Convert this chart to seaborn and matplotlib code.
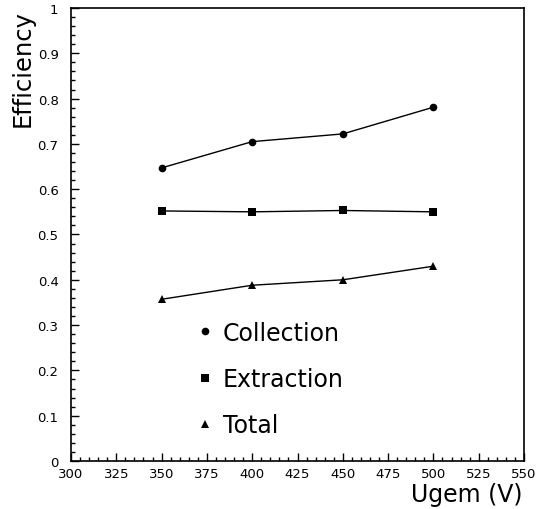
import numpy as np
import pandas as pd
import seaborn as sns
import matplotlib
matplotlib.use("Agg")
import matplotlib.pyplot as plt
from matplotlib.lines import Line2D
from matplotlib.ticker import MultipleLocator

# values
ugem = [350, 400, 450, 500]
collection = [0.647, 0.705, 0.722, 0.781]
extraction = [0.552, 0.550, 0.553, 0.550]
total = [0.357, 0.388, 0.400, 0.430]

series_names = ["Collection", "Extraction", "Total"]
marker_map = {"Collection": "o", "Extraction": "s", "Total": "^"}

xticks = [300, 325, 350, 375, 400, 425, 450, 475, 500, 525, 550]
yticks = [0, 0.1, 0.2, 0.3, 0.4, 0.5, 0.6, 0.7, 0.8, 0.9, 1]
ytick_labels = ["0", "0.1", "0.2", "0.3", "0.4", "0.5", "0.6", "0.7", "0.8", "0.9", "1"]

df = pd.DataFrame({
    "ugem": ugem * 3,
    "eff": collection + extraction + total,
    "series": [s for s in series_names for _ in ugem],
})

sns.set_style("white")
plt.rcParams['font.family'] = ['DejaVu Sans']
plt.rcParams['text.color'] = 'black'
plt.rcParams['xtick.color'] = 'black'
plt.rcParams['ytick.color'] = 'black'

fig = plt.figure(figsize=(5.36, 5.10), dpi=100)
ax = fig.add_axes([0.1325, 0.0941, 0.8451, 0.8883])

sns.lineplot(data=df, x="ugem", y="eff", style="series", markers=marker_map,
             dashes=False, color="black", linewidth=1.0, markersize=5.5,
             markeredgewidth=0, legend=False, ax=ax)

ax.set_xlim(300, 550)
ax.set_ylim(0, 1)
ax.set_xticks(xticks)
ax.set_xticklabels([str(t) for t in xticks])
ax.set_yticks(yticks)
ax.set_yticklabels(ytick_labels)
ax.xaxis.set_minor_locator(MultipleLocator(5))
ax.yaxis.set_minor_locator(MultipleLocator(0.02))
ax.tick_params(which="both", direction="in", top=False, right=False,
               bottom=True, left=True, width=1.0, color="black")
ax.tick_params(which="major", length=6, labelsize=9.5)
ax.tick_params(which="minor", length=3)
ax.tick_params(axis="x", which="major", pad=4)
ax.tick_params(axis="y", which="major", pad=9)
for sp in ax.spines.values():
    sp.set_color("black")
    sp.set_linewidth(1.2)

ax.set_xlabel("")
ax.set_ylabel("")
fig.text(0.974, 0.0157, "Ugem (V)", ha="right", va="baseline", fontsize=17)
fig.text(0.043, 0.980, "Efficiency", ha="center", va="top", rotation=90,
         fontsize=17.5)

handles = [Line2D([], [], linestyle="", marker=marker_map[s], color="black",
                  markersize=5.5, markeredgewidth=0) for s in series_names]
ax.legend(handles, series_names, loc="center left", bbox_to_anchor=(0.228, 0.181),
          frameon=False, handlelength=0.8, handletextpad=0.36,
          labelspacing=0.95, prop={"size": 17})

fig.savefig("out.png", dpi=100)
